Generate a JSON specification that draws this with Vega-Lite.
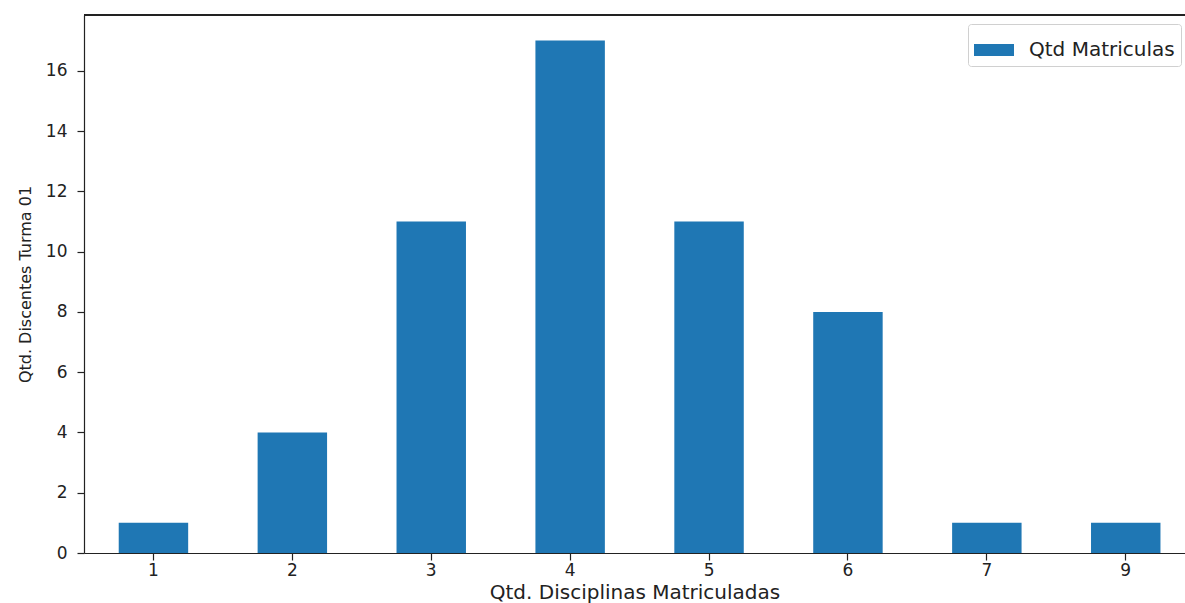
{
  "$schema": "https://vega.github.io/schema/vega-lite/v6.json",
  "width": 1101,
  "height": 538,
  "autosize": {"type": "none"},
  "padding": {"left": 84, "top": 15, "right": 0, "bottom": 50},
  "background": "white",
  "config": {
    "view": {"stroke": null},
    "font": "DejaVu Sans",
    "axis": {
      "domainColor": "#222",
      "tickColor": "#222",
      "domainWidth": 1.2,
      "tickWidth": 1.2,
      "tickSize": 7,
      "labelColor": "#222",
      "titleColor": "#222",
      "titleFontWeight": "normal",
      "labelFont": "DejaVu Sans",
      "titleFont": "DejaVu Sans",
      "grid": false
    }
  },
  "data": {
    "values": [
      {"disciplinas": "1", "discentes": 1},
      {"disciplinas": "2", "discentes": 4},
      {"disciplinas": "3", "discentes": 11},
      {"disciplinas": "4", "discentes": 17},
      {"disciplinas": "5", "discentes": 11},
      {"disciplinas": "6", "discentes": 8},
      {"disciplinas": "7", "discentes": 1},
      {"disciplinas": "9", "discentes": 1}
    ]
  },
  "layer": [
    {
      "mark": {"type": "bar"},
      "encoding": {
        "x": {
          "field": "disciplinas",
          "type": "ordinal",
          "sort": null,
          "scale": {"paddingInner": 0.5, "paddingOuter": 0.2133, "align": 0.586},
          "axis": {
            "title": "Qtd. Disciplinas Matriculadas",
            "labelAngle": 0,
            "labelFontSize": 17,
            "labelPadding": 2,
            "titleFontSize": 20,
            "titlePadding": 4
          }
        },
        "y": {
          "field": "discentes",
          "type": "quantitative",
          "scale": {"domain": [0, 17.85], "nice": false, "zero": true},
          "axis": {
            "title": "Qtd. Discentes Turma 01",
            "values": [0, 2, 4, 6, 8, 10, 12, 14, 16],
            "labelFontSize": 17,
            "labelPadding": 10,
            "titleFontSize": 16,
            "titlePadding": 12
          }
        },
        "color": {
          "datum": "Qtd Matriculas",
          "type": "nominal",
          "scale": {"range": ["#1f77b4"]},
          "legend": {
            "title": null,
            "orient": "none",
            "legendX": 884,
            "legendY": 9,
            "fillColor": "white",
            "strokeColor": "#d0d0d0",
            "cornerRadius": 3,
            "padding": 6,
            "symbolType": "M-1,-0.3L1,-0.3L1,0.3L-1,0.3Z",
            "symbolSize": 1600,
            "symbolStrokeWidth": 0,
            "symbolOpacity": 1,
            "labelFontSize": 20,
            "labelOffset": 15,
            "labelColor": "#222",
            "labelFont": "DejaVu Sans"
          }
        }
      }
    },
    {
      "mark": {"type": "rule", "color": "#222", "strokeWidth": 1.2},
      "encoding": {"y": {"datum": 17.85, "type": "quantitative"}}
    }
  ]
}
